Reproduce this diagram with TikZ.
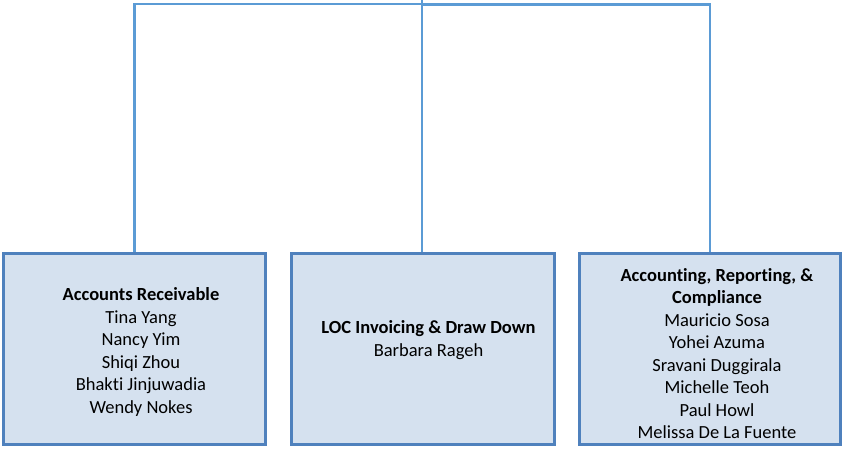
\documentclass[tikz,border=0pt]{standalone}
\usepackage{fontspec}
\setmainfont[Ligatures=NoCommon]{Carlito}
\definecolor{boxfill}{HTML}{D5E1EF}
\definecolor{boxline}{HTML}{4F81BD}
\definecolor{connline}{HTML}{5B9BD5}
\begin{document}
\begin{tikzpicture}[x=1pt,y=-1pt,
  box/.style={draw=boxline,fill=boxfill,line width=3pt,minimum height=191pt,inner sep=0pt},
  conn/.style={draw=connline,line width=2.2pt},
  lbl/.style={align=center,inner sep=0pt,font=\fontsize{18.5}{22.5}\selectfont}]
\useasboundingbox (0,0) rectangle (843,449);
\node[box,minimum width=262pt] (ar) at (134.5,349) {};
\node[box,minimum width=263pt] (loc) at (423,349) {};
\node[box,minimum width=261pt] (acc) at (710,349) {};
\coordinate (top) at (422,0);
\coordinate (joinL) at (422,4);
\coordinate (joinR) at (422,4.5);
\draw[conn] (top) -- (loc.north -| top);
\draw[conn] (ar.north) |- (joinL);
\draw[conn] (acc.north) |- (joinR);
\node[lbl] (arT) at (141,352) {\textbf{Accounts Receivable}\\Tina Yang\\Nancy Yim\\Shiqi Zhou\\Bhakti Jinjuwadia\\Wendy Nokes};
\node[lbl] (locT) at (428.5,340) {\textbf{LOC Invoicing \& Draw Down}\\Barbara Rageh};
\node[lbl] (accT) at (717,353.5) {\textbf{Accounting, Reporting, \&}\\\textbf{Compliance}\\Mauricio Sosa\\Yohei Azuma\\Sravani Duggirala\\Michelle Teoh\\Paul Howl\\Melissa De La Fuente};
\end{tikzpicture}
\end{document}
